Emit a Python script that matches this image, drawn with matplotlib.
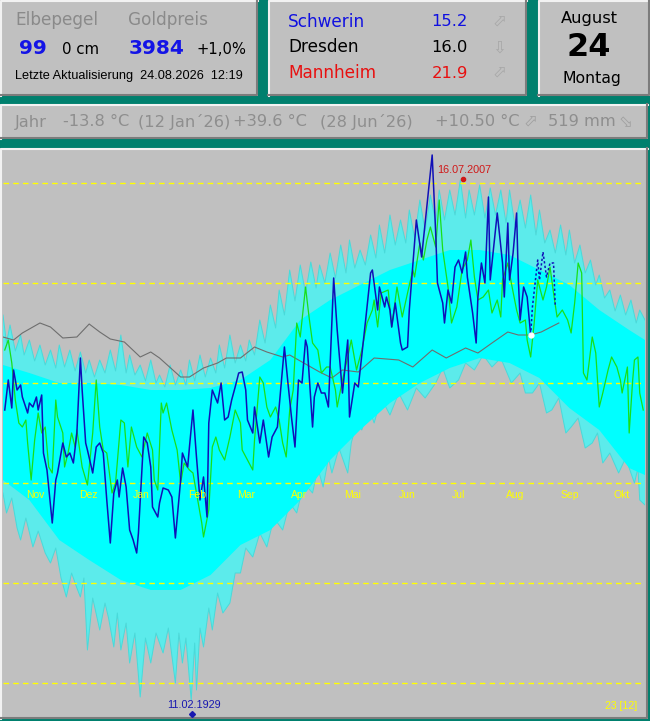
import matplotlib.pyplot as plt
from matplotlib.patches import Rectangle
import numpy as np

plt.rcParams['font.family'] = ['DejaVu Sans']

# ---- data (day index of the hydrological year, daily mean temperature in deg C) ----
months = ['Nov', 'Dez', 'Jan', 'Feb', 'Mar', 'Apr', 'Mai', 'Jun', 'Jul', 'Aug', 'Sep', 'Okt']
month_len = [30, 31, 31, 28, 31, 30, 31, 30, 31, 31, 30, 31]

# current year (blue)
cur_day = [1, 3, 5, 6, 8, 10, 11, 14, 15, 17, 19, 20, 22, 23, 25, 28, 30, 31, 34, 36,
           38, 40, 42, 44, 45, 47, 48, 51, 53, 55, 57, 59, 61, 63, 65, 66, 68, 70, 72, 74,
           76, 77, 80, 82, 84, 85, 88, 89, 91, 94, 96, 98, 101, 102, 105, 106, 108, 110, 112, 114,
           116, 117, 119, 122, 124, 126, 128, 130, 132, 134, 136, 138, 139, 142, 143, 146, 148, 151, 153, 156,
           159, 160, 162, 164, 166, 168, 170, 172, 173, 176, 177, 179, 181, 183, 185, 188, 190, 193, 196, 197,
           200, 202, 206, 209, 210, 213, 214, 217, 218, 220, 221, 223, 226, 227, 230, 231, 235, 238, 240, 242,
           244, 246, 247, 250, 251, 253, 255, 257, 259, 261, 263, 264, 267, 269, 270, 272, 274, 276, 277, 279,
           281, 284, 285, 287, 288, 290, 292, 293, 294, 296, 298, 300]
cur_temp = [7.3, 10.3, 7.5, 11.3, 9.3, 9.8, 8.6, 7.0, 8.0, 7.6, 8.6, 7.3, 8.8, 3.0, 1.3, -4.0, 0.3, 1.0, 4.0, 2.6,
            3.0, 2.0, 5.0, 12.5, 9.3, 4.0, 3.3, 1.0, 3.6, 4.0, 3.0, -1.7, -6.0, -1.0, 0.3, -1.4, 1.5, -0.4, -4.7, -5.7,
            -7.0, -5.0, 4.6, 4.0, 1.6, -2.4, -3.4, -2.0, -0.5, -0.7, -1.4, -5.5, 0.3, 3.0, 1.6, 3.6, 7.3, 2.6, -1.7, 0.6,
            -3.4, 6.0, 9.3, 8.0, 10.0, 6.3, 6.6, 8.3, 9.6, 11.0, 11.1, 9.3, 6.3, 5.0, 7.6, 4.0, 6.3, 2.6, 4.6, 5.6,
            11.6, 13.6, 10.0, 6.6, 3.6, 10.3, 10.0, 14.3, 13.6, 5.6, 8.6, 10.0, 9.0, 9.0, 7.6, 20.5, 15.3, 9.0, 14.3, 6.6,
            10.0, 9.6, 16.0, 21.0, 21.3, 17.3, 19.6, 17.6, 18.6, 17.3, 15.6, 18.0, 14.0, 13.3, 13.6, 17.3, 26.3, 22.6, 26.0, 29.3,
            32.8, 25.0, 20.0, 18.0, 16.0, 19.3, 18.0, 21.6, 22.3, 21.0, 23.1, 20.6, 17.0, 14.0, 18.6, 22.0, 20.0, 28.6, 20.3, 23.6,
            27.0, 22.0, 18.6, 26.0, 20.3, 23.0, 27.0, 20.3, 16.3, 19.6, 18.6, 14.8]

# forecast (blue dotted)
fc_day = [300, 301, 304, 305, 307, 309, 311, 313, 314]
fc_temp = [14.8, 17.6, 22.3, 20.3, 23.1, 20.6, 22.0, 22.0, 17.6]

# previous year (green)
prev_day = [1, 3, 5, 7, 9, 11, 13, 14, 16, 18, 20, 22, 24, 26, 28, 30, 31, 34, 35, 37,
            39, 41, 42, 45, 48, 51, 53, 55, 57, 59, 62, 64, 67, 69, 71, 73, 76, 79, 82, 85,
            86, 88, 90, 91, 93, 96, 99, 101, 103, 106, 108, 111, 113, 114, 117, 119, 121, 123, 126, 129,
            132, 135, 136, 139, 142, 143, 146, 148, 150, 152, 155, 157, 159, 161, 163, 165, 167, 169, 172, 174,
            176, 179, 181, 184, 186, 189, 190, 193, 196, 198, 201, 204, 207, 210, 211, 213, 215, 219, 221, 224,
            227, 230, 233, 234, 237, 239, 241, 243, 246, 248, 250, 253, 255, 258, 261, 264, 266, 268, 270, 273,
            276, 278, 281, 283, 284, 287, 289, 292, 294, 297, 298, 300, 302, 304, 307, 309, 311, 313, 315, 318,
            321, 323, 325, 327, 329, 330, 332, 335, 337, 339, 341, 344, 346, 349, 351, 352, 355, 356, 358, 359,
            361, 362, 364]
prev_temp = [13.3, 14.3, 12.0, 8.3, 6.0, 5.6, 6.3, 4.0, 0.3, 4.3, 7.0, 5.0, 5.6, 1.6, 1.0, 8.3, 6.6, 5.0, 1.6, 3.0,
             5.0, 3.6, 5.3, 1.6, -0.2, 5.0, 10.3, 5.6, 3.3, 3.0, -1.0, 0.0, 6.3, 6.0, 1.6, 5.6, 3.6, 2.6, 5.0, 3.3,
             0.3, -0.7, 8.0, 7.0, 8.0, 5.3, 3.3, 0.0, 2.0, 1.3, 1.0, -2.0, -4.0, -5.4, -2.7, 3.6, 4.6, 3.3, 2.3, 4.6,
             7.3, 6.0, 3.3, 2.3, 1.3, 4.3, 10.6, 10.0, 7.6, 6.6, 7.6, 6.3, 4.0, 2.6, 7.3, 9.3, 16.0, 14.6, 19.6, 16.6,
             14.0, 13.3, 11.0, 11.6, 11.6, 9.3, 7.6, 10.3, 12.6, 14.3, 11.3, 13.3, 16.0, 17.3, 18.3, 15.6, 19.0, 19.3, 15.6, 19.6,
             16.6, 19.0, 21.3, 20.6, 24.0, 22.3, 24.3, 25.6, 23.6, 28.3, 23.3, 19.6, 16.0, 17.6, 21.3, 22.3, 24.3, 20.6, 18.3, 18.6,
             19.3, 17.0, 18.3, 16.6, 20.3, 22.0, 20.0, 17.3, 16.0, 16.3, 14.3, 12.6, 16.0, 20.3, 18.3, 19.6, 21.6, 19.0, 16.6, 17.3,
             16.3, 15.0, 18.0, 22.0, 21.0, 11.0, 10.3, 14.6, 13.0, 7.6, 9.0, 11.3, 12.6, 11.6, 10.3, 9.0, 11.6, 5.0, 10.3, 12.3,
             12.6, 9.0, 7.3]

# running mean (gray)
mean_day = [0, 6, 11, 21, 27, 34, 42, 49, 55, 61, 69, 78, 84, 89, 101, 106, 114, 122, 127, 135,
            143, 150, 159, 163, 175, 180, 187, 193, 202, 211, 225, 233, 244, 252, 263, 270, 278, 287, 293, 300,
            306, 316]
mean_temp = [14.6, 14.3, 15.0, 16.0, 15.6, 14.5, 14.6, 15.9, 15.1, 14.4, 14.1, 12.6, 13.1, 12.5, 10.6, 10.6, 11.5, 12.0, 12.5, 12.5,
             13.6, 13.1, 12.6, 12.8, 11.6, 11.1, 10.5, 11.3, 11.1, 12.5, 12.3, 11.6, 13.3, 12.5, 13.5, 13.0, 14.0, 15.1, 14.8, 14.8,
             15.1, 16.0]

# all-years envelope (cyan): spiky upper edge of the daily maxima
env_hi_day = [0, 2, 4, 7, 10, 12, 15, 18, 21, 24, 27, 30, 32, 35, 38, 41, 44, 47, 49, 52,
              55, 58, 61, 64, 67, 70, 72, 75, 78, 81, 84, 87, 89, 92, 95, 98, 101, 104, 106, 109,
              112, 115, 118, 121, 123, 126, 129, 132, 135, 138, 140, 143, 146, 149, 152, 155, 157, 160, 163, 166,
              169, 172, 175, 178, 180, 183, 186, 189, 192, 195, 197, 200, 203, 206, 209, 212, 214, 217, 220, 223,
              226, 229, 231, 234, 237, 240, 243, 246, 248, 251, 254, 257, 260, 263, 265, 268, 271, 274, 277, 280,
              283, 286, 288, 291, 294, 297, 300, 303, 305, 308, 311, 314, 317, 320, 322, 325, 328, 331, 334, 337,
              339, 342, 345, 348, 351, 354, 357, 360, 362, 365]
env_hi = [16.8, 14.0, 15.8, 13.2, 14.8, 12.8, 14.3, 12.2, 13.8, 11.8, 13.3, 11.5, 13.8, 11.6, 13.3, 11.2, 13.1, 11.0, 12.3, 10.6,
          12.3, 11.0, 13.3, 11.2, 14.8, 11.0, 12.8, 10.8, 11.8, 10.2, 12.3, 10.0, 10.8, 9.6, 11.8, 9.8, 11.3, 9.8, 12.3, 10.2,
          12.8, 10.6, 12.5, 11.0, 13.8, 11.5, 14.8, 12.0, 13.8, 12.2, 14.3, 12.8, 16.3, 14.0, 17.8, 15.5, 19.3, 16.8, 21.3, 18.2,
          21.8, 19.0, 22.1, 19.5, 21.8, 20.0, 23.0, 20.5, 23.8, 21.0, 24.3, 21.5, 23.3, 21.8, 24.8, 22.5, 25.8, 23.0, 26.8, 23.8,
          26.3, 24.0, 27.3, 24.5, 28.3, 25.2, 28.8, 26.0, 29.3, 26.3, 29.3, 26.8, 30.3, 26.5, 29.3, 26.8, 29.8, 26.5, 29.5, 26.8,
          29.3, 26.0, 29.3, 25.8, 28.3, 25.5, 28.8, 24.8, 27.3, 24.0, 25.3, 23.0, 25.8, 22.8, 25.3, 22.0, 23.8, 21.0, 22.3, 19.8,
          20.8, 18.5, 19.3, 17.2, 18.8, 16.8, 18.3, 16.0, 17.3, 16.3]

# spiky lower edge of the daily minima
env_lo_day = [0, 2, 5, 8, 10, 13, 17, 20, 24, 27, 30, 33, 36, 39, 42, 44, 46, 48, 51, 55,
              58, 60, 63, 65, 67, 70, 72, 75, 78, 81, 84, 87, 91, 94, 98, 100, 102, 104, 107, 109,
              110, 112, 114, 117, 119, 122, 125, 129, 132, 135, 138, 142, 146, 150, 154, 159, 163, 167, 171, 176,
              179, 182, 185, 187, 191, 196, 198, 201, 204, 208, 211, 215, 220, 225, 230, 235, 240, 246, 250, 254,
              259, 263, 268, 273, 278, 283, 289, 294, 297, 301, 305, 309, 312, 316, 320, 323, 327, 331, 335, 338,
              341, 345, 350, 354, 359, 361, 362, 365]
env_lo = [-1.0, -3.0, -1.5, -4.5, -5.7, -3.5, -6.4, -4.8, -7.0, -8.0, -6.5, -9.5, -11.4, -9.0, -10.5, -11.4, -9.5, -16.7, -11.5, -14.7,
          -12.0, -13.5, -16.4, -13.0, -16.7, -14.0, -18.0, -15.0, -21.4, -15.5, -18.0, -15.0, -17.0, -14.5, -20.0, -15.0, -18.0, -15.5, -21.7, -16.0,
          -20.7, -14.5, -16.4, -12.5, -14.7, -11.0, -13.0, -12.0, -9.0, -9.0, -6.5, -7.4, -5.0, -6.4, -3.5, -4.7, -2.0, -3.0, 0.0, -1.0,
          1.5, -0.4, 2.5, 1.0, 3.5, 1.0, 4.0, 6.0, 5.3, 7.5, 6.0, 8.5, 6.8, 9.0, 7.3, 9.5, 8.5, 10.0, 11.5, 9.5,
          10.3, 12.0, 11.3, 12.8, 11.6, 12.5, 10.0, 11.0, 9.0, 9.0, 10.0, 7.0, 7.3, 8.5, 5.0, 5.6, 6.5, 3.5, 4.0, 5.0,
          2.0, 3.0, 1.0, 2.5, 0.0, 1.5, -1.7, -2.2]

# dense core of the envelope
band_day = [0, 15, 32, 49, 67, 84, 101, 118, 135, 152, 169, 186, 203, 220, 237, 254, 271, 288, 305, 322, 339, 356, 365]
band_hi = [11.8, 11.0, 10.0, 10.0, 9.8, 9.3, 9.3, 9.5, 10.3, 12.3, 16.3, 18.3, 19.8, 21.3, 22.3, 23.3, 23.3, 22.8, 21.3, 19.8, 17.3, 15.3, 14.3]
band_lo = [0.3, -1.7, -5.7, -7.7, -9.7, -10.7, -10.7, -9.2, -6.2, -4.7, -1.7, 2.3, 5.3, 8.0, 10.0, 11.5, 12.5, 12.0, 10.5, 7.5, 5.3, 1.5, 0.8]

rec_hi_day, rec_hi_temp, rec_hi_label = 261.5, 30.4, '16.07.2007'
rec_lo_day, rec_lo_temp, rec_lo_label = 107.4, -23.1, '11.02.1929'
today_day, today_temp = 300, 14.8

TEAL = '#00806E'
PANEL = '#C0C0C0'

fig = plt.figure(figsize=(6.5, 7.21), dpi=100)
fig.patch.set_facecolor(TEAL)

# background axes in pixel coordinates for the panels
bg = fig.add_axes([0, 0, 1, 1])
bg.set_xlim(0, 650)
bg.set_ylim(721, 0)
bg.axis('off')


def panel(x0, y0, x1, y1):
    bg.add_patch(Rectangle((x0, y0), x1 - x0, y1 - y0, fc=PANEL, ec='none', zorder=0))
    bg.plot([x0 + 1, x0 + 1, x1], [y1, y0 + 1, y0 + 1], color='#F2F2F2', lw=1.5, zorder=1)
    bg.plot([x0, x1 - 1, x1 - 1], [y1 - 1, y1 - 1, y0], color='#7C7C7C', lw=1.5, zorder=1)


panel(0, 0, 258, 96)
panel(268, 0, 527, 96)
panel(538, 0, 650, 96)
panel(0, 104, 648, 139)
panel(0, 148, 648, 719)

# --- first panel ---
bg.text(15, 20, 'Elbepegel', color='#8A8A8A', fontsize=12.2, va='center')
bg.text(128, 20, 'Goldpreis', color='#8A8A8A', fontsize=12.2, va='center')
bg.text(19, 48, '99', color='#1414E6', fontsize=14.5, weight='bold', va='center')
bg.text(62, 49, '0 cm', color='black', fontsize=10.8, va='center')
bg.text(129, 48, '3984', color='#1414E6', fontsize=14.5, weight='bold', va='center')
bg.text(197, 49, '+1,0%', color='black', fontsize=10.6, va='center')
bg.text(15, 76, 'Letzte Aktualisierung  24.08.2026  12:19', color='black', fontsize=9.2,
        va='center', family='Liberation Sans')

# --- second panel ---
cities = ['Schwerin', 'Dresden', 'Mannheim']
city_vals = ['15.2', '16.0', '21.9']
city_cols = ['#1010E0', 'black', '#E81010']
city_arrows = ['\u2B00', '\u21E9', '\u2B00']
for i, (c, v, col, a) in enumerate(zip(cities, city_vals, city_cols, city_arrows)):
    yy = 22 + i * 25.5
    bg.text(288, yy, c, color=col, fontsize=12.2, va='center')
    bg.text(468, yy, v, color=col, fontsize=11.8, va='center', ha='right')
    bg.text(499, yy, a, color='#A8A8A8', fontsize=12, va='center', ha='center')

# --- date panel ---
bg.text(589, 18, 'August', color='black', fontsize=11.7, va='center', ha='center')
bg.text(589, 47, '24', color='black', fontsize=23, weight='bold', va='center', ha='center')
bg.text(592, 78, 'Montag', color='black', fontsize=11.3, va='center', ha='center')

# --- year summary row ---
GREY_T = '#8E8E8E'
row = [(15, 'Jahr'), (63, '-13.8 \u00b0C'), (138, '(12 Jan\u00b426)'), (233, '+39.6 \u00b0C'),
       (320, '(28 Jun\u00b426)'), (435, '+10.50 \u00b0C'), (548, '519 mm')]
for xx, s in row:
    bg.text(xx, 122, s, color=GREY_T, fontsize=11.7, va='center')
bg.text(530, 122, '\u2B00', color='#A0A0A0', fontsize=12, va='center', ha='center')
bg.text(625, 122, '\u2B02', color='#A0A0A0', fontsize=12, va='center', ha='center')

# --- chart ---
ax = fig.add_axes([3 / 650, (721 - 717) / 721, 642 / 650, 567 / 721])
ax.set_xlim(0, 365)
ax.set_ylim(-23.4, 33.3)
ax.set_axis_off()

env_x = env_hi_day + env_lo_day[::-1]
env_y = env_hi + env_lo[::-1]
ax.fill(env_x, env_y, color='#5CEBEB', lw=0, zorder=1)
ax.plot(env_hi_day, env_hi, color='#48DADA', lw=0.7, zorder=1.5)
ax.plot(env_lo_day, env_lo, color='#48DADA', lw=0.7, zorder=1.5)
ax.fill(band_day + band_day[::-1], band_hi + band_lo[::-1], color='#00FFFF', lw=0, zorder=2)

for v in [-20, -10, 0, 10, 20, 30]:
    ax.axhline(v, color='#FFFF00', lw=1.0, ls=(0, (4, 3)), zorder=3)

starts = np.concatenate([[0], np.cumsum(month_len)[:-1]])
for m, s in zip(months, starts):
    ax.text(s + 13, -1.2, m, color='#FFFF00', fontsize=7.5, ha='left', va='center',
            family='Liberation Sans', zorder=6)

ax.plot(mean_day, mean_temp, color='#6E6E6E', lw=0.8, zorder=4)
ax.plot(prev_day, prev_temp, color='#18E018', lw=0.9, zorder=4.5)
ax.plot(cur_day, cur_temp, color='#1010B8', lw=1.1, zorder=5)
ax.plot(fc_day, fc_temp, color='#1010B8', lw=1.1, ls=(0, (1.5, 1.5)), zorder=5)
ax.plot(today_day, today_temp, 'o', ms=3.5, color='white', zorder=6)

ax.plot(rec_hi_day, rec_hi_temp, 'o', ms=3, color='#D01818', zorder=6)
ax.text(rec_hi_day + 1, rec_hi_temp + 0.9, rec_hi_label, color='#D01818', fontsize=7.8,
        ha='center', va='center', family='Liberation Sans', zorder=6)
ax.plot(rec_lo_day, rec_lo_temp, 'D', ms=3, color='#1818B0', zorder=6)
ax.text(rec_lo_day + 1, rec_lo_temp + 0.9, rec_lo_label, color='#1818B0', fontsize=7.8,
        ha='center', va='center', family='Liberation Sans', zorder=6)
ax.text(360.5, -22.3, '23 [12]', color='#FFFF00', fontsize=7.5, ha='right', va='center',
        family='Liberation Sans', zorder=6)

fig.savefig('out.png', dpi=100, facecolor=TEAL)
